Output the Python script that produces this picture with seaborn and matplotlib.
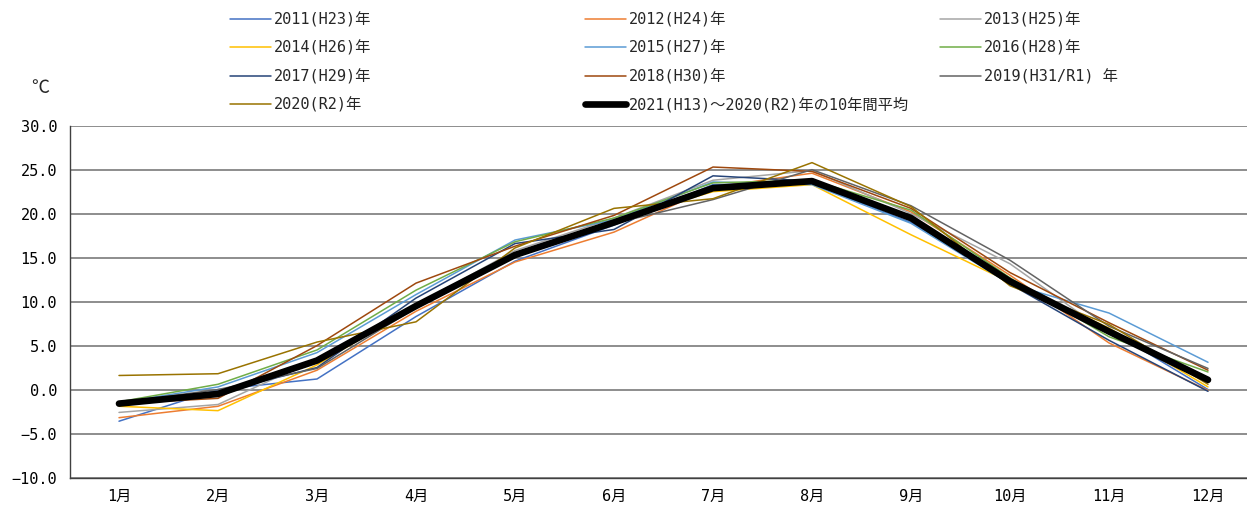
import matplotlib
matplotlib.use("Agg")
import matplotlib.pyplot as plt
import numpy as np
import pandas as pd
import seaborn as sns

# Monthly mean temperature (°C)
months = ["1月", "2月", "3月", "4月", "5月", "6月",
          "7月", "8月", "9月", "10月", "11月", "12月"]

series_labels = ["2011(H23)年", "2012(H24)年", "2013(H25)年",
                 "2014(H26)年", "2015(H27)年", "2016(H28)年",
                 "2017(H29)年", "2018(H30)年", "2019(H31/R1) 年",
                 "2020(R2)年"]
avg_label = "2021(H13)～2020(R2)年の10年間平均"

t2011 = [-3.6, 0.0, 1.2, 8.3, 14.6, 18.7, 23.3, 23.4, 19.0, 12.3, 6.8, 0.0]
t2012 = [-3.2, -1.9, 2.2, 8.9, 14.5, 17.9, 23.0, 24.6, 20.2, 13.0, 5.3, -0.1]
t2013 = [-2.6, -1.7, 3.5, 9.6, 15.8, 19.5, 23.8, 24.9, 20.0, 14.3, 6.3, 1.0]
t2014 = [-1.9, -2.4, 2.8, 9.5, 15.4, 19.2, 22.5, 23.3, 17.6, 12.2, 7.0, 0.3]
t2015 = [-1.5, 0.3, 4.2, 10.8, 17.0, 19.3, 23.6, 23.3, 18.9, 12.0, 8.7, 3.1]
t2016 = [-1.4, 0.6, 4.5, 11.3, 16.8, 19.5, 23.5, 23.8, 20.4, 12.7, 6.0, 2.0]
t2017 = [-1.5, -0.3, 2.5, 10.4, 16.6, 18.2, 24.3, 23.7, 19.2, 12.0, 5.6, -0.2]
t2018 = [-1.6, -1.0, 5.0, 12.1, 16.3, 19.8, 25.3, 24.8, 20.6, 13.3, 7.6, 2.2]
t2019 = [-1.5, 0.0, 2.4, 9.3, 15.2, 18.9, 21.6, 25.0, 20.9, 14.7, 7.2, 2.4]
t2020 = [1.6, 1.8, 5.4, 7.7, 16.1, 20.6, 21.7, 25.8, 20.8, 11.8, 7.4, 0.6]
t_avg = [-1.6, -0.5, 3.3, 9.5, 15.3, 19.0, 22.9, 23.7, 19.5, 12.3, 6.6, 1.1]

series_values = [t2011, t2012, t2013, t2014, t2015,
                 t2016, t2017, t2018, t2019, t2020]

colors = ["#4472C4", "#ED7D31", "#A5A5A5", "#FFC000", "#5B9BD5",
          "#70AD47", "#264478", "#9E480E", "#636363", "#997300"]

yticks = [-10, -5, 0, 5, 10, 15, 20, 25, 30]

sns.set_style("white")
plt.rcParams["font.family"] = ["DejaVu Sans Mono", "Noto Sans CJK JP"]
plt.rcParams["axes.unicode_minus"] = True

W, H = 1247, 508
fig = plt.figure(figsize=(W / 100, H / 100), dpi=100)
ax = fig.add_axes([69.5 / W, 30.5 / H, 1188 / W, 351.8 / H])

long_df = pd.DataFrame({
    "month": np.tile(months, len(series_labels)),
    "temp": np.concatenate(series_values),
    "series": np.repeat(series_labels, len(months)),
})

sns.lineplot(data=long_df, x="month", y="temp", hue="series",
             hue_order=series_labels, palette=colors, sort=False,
             linewidth=1.1, legend=False, ax=ax)

avg_df = pd.DataFrame({"month": months, "temp": t_avg})
sns.lineplot(data=avg_df, x="month", y="temp", color="black",
             linewidth=4.8, sort=False, solid_capstyle="round", ax=ax)

ax.set_xlim(-0.5, 11.5)
ax.set_ylim(-10, 30)
ax.set_yticks(yticks)
ax.set_yticklabels([f"{v:.1f}".replace("-", "\u2212") for v in yticks])
ax.set_xticks(range(len(months)))
ax.set_xticklabels(months)
ax.set_xlabel("")
ax.set_ylabel("")

ax.yaxis.grid(True, color="#7a7a7a", linewidth=1.2)
ax.xaxis.grid(False)
ax.set_axisbelow(True)
for side in ["top", "right"]:
    ax.spines[side].set_visible(False)
ax.spines["left"].set_color("#404040")
ax.spines["left"].set_linewidth(1.0)
ax.spines["bottom"].set_color("#404040")
ax.spines["bottom"].set_linewidth(1.0)
ax.tick_params(axis="both", length=0, labelsize=11, colors="black")
ax.tick_params(axis="y", pad=9)
ax.tick_params(axis="x", pad=8)

fig.text(40 / W, 1 - 88 / H, "℃", family="Noto Sans CJK JP",
         fontsize=13, ha="center", va="center")

# Legend: three columns, filled row by row
lines = ax.get_lines()
handles = list(lines[:len(series_labels)]) + [lines[-1]]
names = series_labels + [avg_label]
col_x = [230, 585, 940]
row_y = [20, 48, 77, 105]
for i, (h, name) in enumerate(zip(handles, names)):
    r, c = divmod(i, 3)
    fig.legend([h], [name], loc="center left",
               bbox_to_anchor=(col_x[c] / W, 1 - row_y[r] / H),
               frameon=False, borderpad=0, borderaxespad=0,
               handlelength=2.7, handletextpad=0.15, fontsize=11)

fig.savefig("out.png", dpi=100)
